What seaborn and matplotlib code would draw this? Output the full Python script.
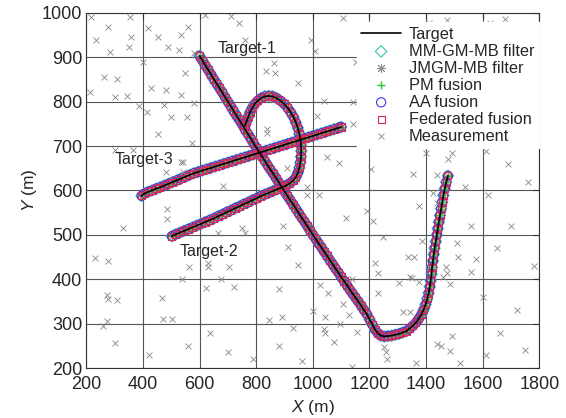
import matplotlib
matplotlib.use("Agg")
import matplotlib.pyplot as plt
import seaborn as sns
import numpy as np
import pandas as pd

# target tracks
t1_x = [600, 610, 620, 630, 640, 650, 660, 670, 680, 690, 700,
        710, 720, 730, 740, 750, 760, 770, 780, 790, 800,
        810, 820, 830, 840, 850, 860, 870, 880, 890, 900,
        910, 920, 930, 940, 950, 960, 970, 980, 990, 1000,
        1010, 1020, 1030, 1040, 1050, 1060, 1070, 1080, 1090, 1100,
        1110, 1120, 1130, 1140, 1150, 1160, 1170, 1180, 1190,
        1200, 1210, 1220, 1230, 1240, 1252, 1265, 1278, 1291, 1304, 1317, 1330,
        1342, 1353, 1364, 1374, 1383, 1391, 1398, 1404, 1409, 1413, 1416, 1419,
        1421, 1424, 1427, 1430, 1434, 1438, 1441, 1445, 1449, 1453, 1457, 1461,
        1466, 1471, 1477]
t1_y = [903, 893, 882, 872, 862, 851, 841, 831, 821, 810, 800,
        790, 779, 769, 759, 749, 738, 728, 718, 707, 697,
        687, 677, 667, 657, 647, 638, 628, 618, 608, 598,
        588, 578, 569, 559, 549, 539, 530, 520, 510, 500,
        491, 481, 472, 462, 453, 443, 434, 424, 415, 405,
        396, 387, 377, 368, 359, 350, 341, 331, 322,
        310, 298, 286, 278, 273, 271, 272, 273, 275, 277, 280, 283,
        289, 295, 302, 311, 320, 331, 343, 356, 369, 383, 397, 412,
        427, 441, 456, 470, 485, 500, 514, 529, 544, 559, 574, 589,
        604, 619, 633]

t2_x = [502, 515, 530, 545, 560, 575, 590, 605, 620, 635, 650, 665, 680, 695,
        710, 725, 740, 755, 770, 785, 800, 815, 830, 845, 860, 875, 890, 905,
        918, 930, 940, 947, 952, 956, 958, 959, 958, 956, 952, 947, 940, 932,
        922, 911, 899, 886, 872, 858, 844, 830, 817, 805, 795, 786, 778, 772,
        766, 760]
t2_y = [497, 501, 505, 509, 513, 517, 521, 525, 529, 533, 537, 542, 546, 551,
        555, 560, 564, 569, 573, 578, 582, 587, 591, 595, 599, 603, 607, 611,
        616, 622, 630, 640, 651, 663, 676, 689, 702, 715, 728, 741, 753, 765,
        776, 786, 795, 802, 808, 812, 813, 812, 808, 802, 795, 786, 776, 766,
        756, 746]

t3_x = [395, 405, 418, 432, 446, 460, 475, 490, 505, 520, 535, 550, 565, 580,
        595, 610, 625, 640, 655, 670, 685, 700, 715, 730, 745, 760, 775, 790,
        805, 820, 835, 850, 865, 880, 895, 910, 925, 940, 955, 970, 985, 1000,
        1015, 1030, 1045, 1060, 1075, 1090, 1100]
t3_y = [588, 593, 597, 600, 604, 607, 611, 615, 619, 623, 627, 631, 635, 639,
        642, 645, 648, 651, 654, 657, 660, 663, 666, 669, 672, 675, 678, 681,
        684, 687, 690, 693, 696, 699, 702, 705, 708, 711, 714, 717, 720, 723,
        726, 729, 732, 735, 738, 741, 743]

# clutter + detections
meas_x = [217, 277, 354, 234, 358, 284, 351, 418, 453, 534, 559, 488, 527, 580,
          619, 710, 738, 760, 400, 548, 262, 308, 213, 301, 344, 428, 481, 534,
          386, 415, 475, 580, 499, 555, 862, 834, 866, 947, 993, 1007, 1039, 1014,
          841, 573, 541, 683, 837, 837, 1049, 908, 978, 1021, 453, 302, 365, 534,
          481, 541, 485, 485, 330, 665, 749, 760, 893, 911, 947, 562, 629, 629,
          703, 538, 675, 622, 721, 880, 467, 471, 502, 844, 890, 929, 636, 1091,
          1204, 1352, 1398, 1490, 1479, 978, 1437, 1423, 1437, 1536, 1374, 1190,
          1211, 1116, 1560, 1246, 1384, 1508, 1511, 1335, 1356, 1575, 1218, 1229,
          1469, 1458, 1472, 1557, 1342, 1349, 1374, 1303, 1486, 1137, 1024, 1052,
          1229, 1000, 1105, 1317, 1342, 1042, 1127, 1095, 1039, 1042, 1074, 1155,
          1490, 1437, 1451, 1486, 1250, 1257, 1261, 1518, 1363, 1137, 1106, 1409,
          1472, 1624, 1677, 1152, 1141, 1141, 231, 275, 272, 275, 309, 272, 260,
          301,
          1610, 1690, 1760, 1620, 1700, 1650, 1780, 1600, 1720, 1660, 1750, 1610,
          560, 700, 790, 880, 960, 420]
meas_y = [991, 968, 991, 939, 946, 912, 923, 966, 946, 950, 968, 923, 917, 910,
          995, 993, 977, 939, 890, 865, 856, 851, 822, 811, 813, 831, 827, 815,
          791, 777, 793, 797, 766, 766, 887, 869, 865, 842, 939, 914, 802, 768,
          820, 707, 664, 610, 739, 730, 676, 651, 608, 590, 728, 691, 691, 664,
          642, 642, 559, 536, 516, 505, 516, 505, 520, 473, 432, 428, 437, 428,
          428, 401, 401, 381, 383, 378, 358, 311, 311, 309, 315, 291, 279, 662,
          649, 637, 685, 685, 671, 590, 635, 595, 572, 608, 565, 554,
          532, 538, 520, 496, 487, 482, 451, 451, 451, 446, 437, 415,
          428, 405, 414, 417, 405, 403, 394, 392, 390, 401, 387, 369,
          369, 329, 345, 327, 327, 315, 320, 300, 288, 279, 259, 282,
          273, 255, 250, 239, 248, 237, 221, 212, 212, 203, 989, 977,
          984, 977, 986, 890, 800, 750, 448, 440, 365, 356, 354, 305, 294,
          256,
          690, 660, 620, 590, 520, 470, 430, 360, 330, 280, 240, 230,
          250, 235, 220, 250, 215, 230]

labels = ["Target-1", "Target-2", "Target-3"]
label_pos = [(665, 921), (528, 462), (301, 669)]

sns.set_style("white")
plt.rcParams['font.family'] = ['Liberation Sans', 'DejaVu Sans']
plt.rcParams['mathtext.fontset'] = 'custom'
plt.rcParams['mathtext.it'] = 'Liberation Sans:italic'
plt.rcParams['mathtext.rm'] = 'Liberation Sans'

fig = plt.figure(figsize=(5.66, 4.18), dpi=100)
ax = fig.add_axes([0.1525, 0.1196, 0.8005, 0.8494])

tracks = [(t1_x, t1_y), (t2_x, t2_y), (t3_x, t3_y)]
all_x = t1_x + t2_x + t3_x
all_y = t1_y + t2_y + t3_y

for i, (tx, ty) in enumerate(tracks):
    sns.lineplot(x=tx, y=ty, sort=False, estimator=None, color='black', lw=1.2,
                 ax=ax, label='Target' if i == 0 else None)

sns.scatterplot(x=all_x, y=all_y, marker='D', s=34, facecolor='none',
                edgecolor='#3dbfb0', linewidth=0.8, ax=ax, label='MM-GM-MB filter')
sns.scatterplot(x=all_x, y=all_y, marker=(8, 2, 0), s=34, color='#8c8c8c',
                linewidth=0.7, ax=ax, label='JMGM-MB filter')
sns.scatterplot(x=all_x, y=all_y, marker='+', s=34, color='#33c633',
                linewidth=1.0, ax=ax, label='PM fusion')
sns.scatterplot(x=all_x, y=all_y, marker='o', s=44, facecolor='none',
                edgecolor='#3a3ae0', linewidth=0.8, ax=ax, label='AA fusion')
sns.scatterplot(x=all_x, y=all_y, marker='s', s=26, facecolor='none',
                edgecolor='#d42a5a', linewidth=0.8, ax=ax, label='Federated fusion')
sns.scatterplot(x=meas_x, y=meas_y, marker='x', s=18, color='#858585',
                linewidth=0.6, ax=ax, label='Measurement')

for lab, (lx, ly) in zip(labels, label_pos):
    ax.text(lx, ly, lab, fontsize=11.5, ha='left', va='center')

ax.set_xlim(200, 1800)
ax.set_ylim(200, 1000)
ax.set_xticks(range(200, 1801, 200))
ax.set_yticks(range(200, 1001, 100))
ax.grid(True, color='#555555', lw=0.8)
ax.set_axisbelow(True)
ax.tick_params(direction='in', top=True, right=True, length=4, labelsize=13,
               color='#333333')
ax.tick_params(axis='x', pad=6)
ax.tick_params(axis='y', pad=3)
for s in ax.spines.values():
    s.set_color('#333333')
    s.set_linewidth(0.8)

ax.set_xlabel('$X$ (m)', fontsize=12.5, labelpad=3)
ax.set_ylabel('$Y$ (m)', fontsize=12.5, labelpad=2)

leg = ax.legend(loc='upper right', bbox_to_anchor=(1.0, 0.975), fontsize=11.8,
                frameon=True, fancybox=False, framealpha=1, edgecolor='white',
                facecolor='white', borderaxespad=0, borderpad=0.3,
                labelspacing=0.12, handlelength=2.4, handletextpad=0.5,
                markerscale=1.0)

fig.savefig('out.png', dpi=100)
